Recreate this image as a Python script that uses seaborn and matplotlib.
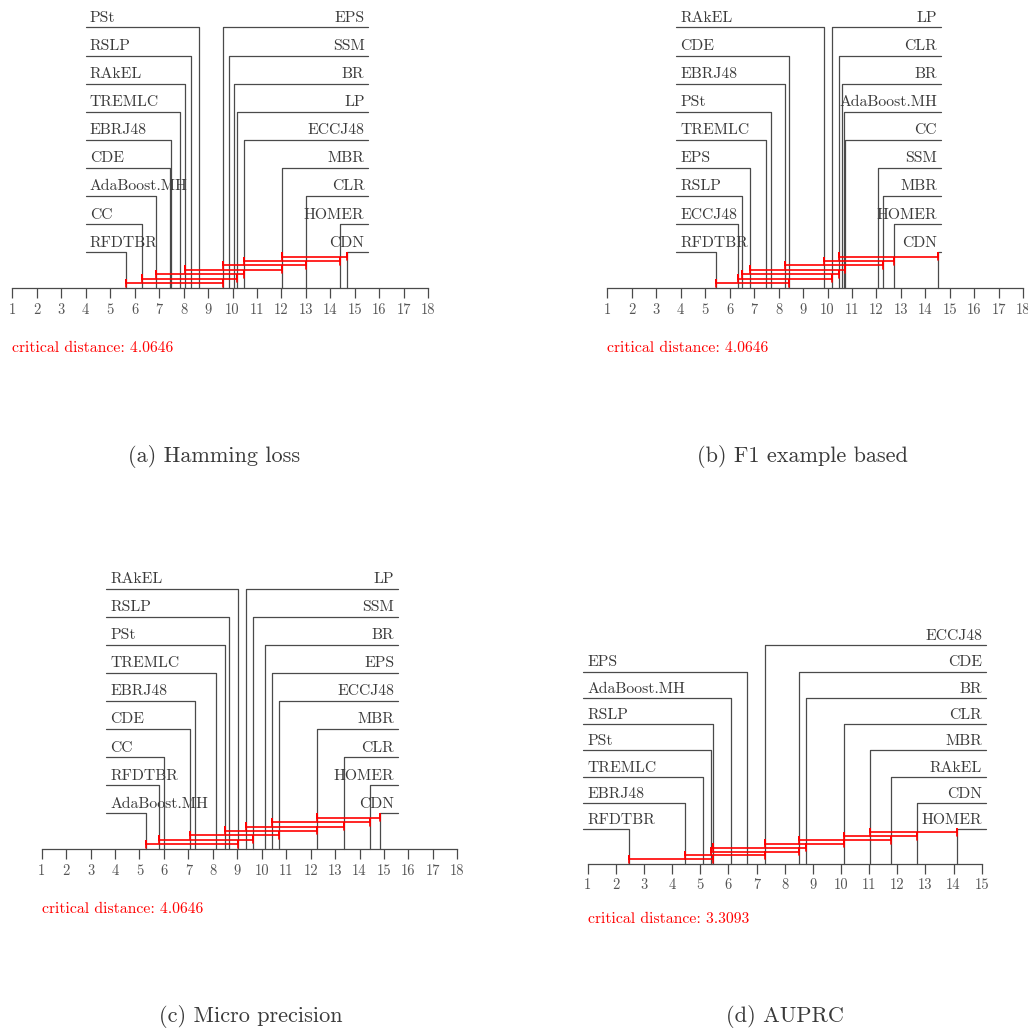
import numpy as np
import pandas as pd
import matplotlib
matplotlib.use("Agg")
import matplotlib.pyplot as plt
import seaborn as sns

# ---------------------------------------------------------------------------
# Average ranks of the multi-label methods (Friedman / Nemenyi post-hoc test)
# ---------------------------------------------------------------------------
hamming_methods = ["RFDTBR", "CC", "AdaBoost.MH", "CDE", "EBRJ48", "TREMLC",
                   "RAkEL", "RSLP", "PSt", "EPS", "SSM", "BR", "LP", "ECCJ48",
                   "MBR", "CLR", "HOMER", "CDN"]
hamming_ranks = [5.65, 6.29, 6.89, 7.44, 7.50, 7.87, 8.07, 8.32, 8.64, 9.60,
                 9.87, 10.05, 10.20, 10.48, 12.02, 12.99, 14.41, 14.69]
hamming_cd = 4.0646

f1_methods = ["RFDTBR", "ECCJ48", "RSLP", "EPS", "TREMLC", "PSt", "EBRJ48",
              "CDE", "RAkEL", "LP", "CLR", "BR", "AdaBoost.MH", "CC", "SSM",
              "MBR", "HOMER", "CDN"]
f1_ranks = [5.43, 6.34, 6.52, 6.84, 7.49, 7.69, 8.25, 8.43, 9.84, 10.20,
            10.48, 10.61, 10.66, 10.70, 12.08, 12.25, 12.70, 14.50]
f1_cd = 4.0646

micro_methods = ["AdaBoost.MH", "RFDTBR", "CC", "CDE", "EBRJ48", "TREMLC",
                 "PSt", "RSLP", "RAkEL", "LP", "SSM", "BR", "EPS", "ECCJ48",
                 "MBR", "CLR", "HOMER", "CDN"]
micro_ranks = [5.26, 5.80, 6.00, 7.08, 7.28, 8.12, 8.50, 8.65, 9.02, 9.37,
               9.64, 10.12, 10.43, 10.71, 12.27, 13.38, 14.43, 14.85]
micro_cd = 4.0646

auprc_methods = ["RFDTBR", "EBRJ48", "TREMLC", "PSt", "RSLP", "AdaBoost.MH",
                 "EPS", "ECCJ48", "CDE", "BR", "CLR", "MBR", "RAkEL", "CDN",
                 "HOMER"]
auprc_ranks = [2.47, 4.46, 5.09, 5.37, 5.46, 6.10, 6.66, 7.30, 8.51, 8.75,
               10.12, 11.04, 11.77, 12.70, 14.14]
auprc_cd = 3.3093

captions = ["(a) Hamming loss", "(b) F1 example based",
            "(c) Micro precision", "(d) AUPRC"]

# ---------------------------------------------------------------------------
W, H = 1028, 1029
sns.set_theme(style="white")
plt.rcParams["font.family"] = ["cmr10", "DejaVu Serif"]
plt.rcParams["axes.unicode_minus"] = False
plt.rcParams["mathtext.fontset"] = "cm"

LINE_COLOR = "#4a4a4a"
TEXT_COLOR = "#3a3a3a"
RED = "#ff0000"

fig = plt.figure(figsize=(W / 100, H / 100), dpi=100)


def cliques(ranks, cd):
    """Maximal groups of consecutive methods whose ranks differ by < cd."""
    r = np.sort(np.asarray(ranks))
    out, last_j = [], 0
    for i in range(len(r)):
        j = i
        while j + 1 < len(r) and r[j + 1] - r[i] <= cd:
            j += 1
        if j > i and j > last_j:
            out.append((r[i], r[j]))
            last_j = j
    return out


def cd_diagram(names, ranks, cd, n_ranks, lay, caption):
    x_first, x_last, axis_y = lay["x_first"], lay["x_last"], lay["axis_y"]
    s = (x_last - x_first) / (n_ranks - 1)          # pixels per rank
    height = 290.0
    ax = fig.add_axes([x_first / W, (H - axis_y) / H,
                       (x_last - x_first) / W, height / H])
    ax.patch.set_alpha(0)
    ax.set_xlim(1, n_ranks)
    ax.set_ylim(0, height)

    order = np.argsort(ranks)
    n_left = len(names) // 2
    left_idx = list(order[:n_left])
    right_idx = list(order[n_left:])[::-1]

    rows = []
    texts = []
    for k, i in enumerate(left_idx):
        y = lay["row0"] + k * lay["row_step"]
        rows += [(names[i], lay["edge_l"], y), (names[i], ranks[i], y),
                 (names[i], ranks[i], 0.0)]
        texts.append((lay["edge_l"] + 4.0 / s, y + lay["txt_dy"], names[i], "left"))
    for k, i in enumerate(right_idx):
        y = lay["row0"] + k * lay["row_step"]
        rows += [(names[i], lay["edge_r"], y), (names[i], ranks[i], y),
                 (names[i], ranks[i], 0.0)]
        texts.append((lay["edge_r"] - 3.5 / s, y + lay["txt_dy"], names[i], "right"))
    df_rows = pd.DataFrame(rows, columns=["method", "x", "y"])
    sns.lineplot(data=df_rows, x="x", y="y", units="method", estimator=None,
                 sort=False, color=LINE_COLOR, lw=0.9, ax=ax, legend=False,
                 clip_on=False)

    for x, y, t, ha in texts:
        ax.text(x, y, t, ha=ha, va="baseline", fontsize=lay["fs"],
                color=TEXT_COLOR, clip_on=False)

    # groups of methods that are not significantly different
    bars = []
    hh = 3.5
    for c, (lo, hi) in enumerate(cliques(ranks, cd)):
        y = lay["bar0"] + c * lay["bar_step"]
        for x, yy in [(lo, y - hh), (lo, y + hh), (lo, y), (hi, y),
                      (hi, y + hh), (hi, y - hh)]:
            bars.append((c, x, yy))
    df_bars = pd.DataFrame(bars, columns=["clique", "x", "y"])
    sns.lineplot(data=df_bars, x="x", y="y", units="clique", estimator=None,
                 sort=False, color=RED, lw=1.2, ax=ax, legend=False,
                 clip_on=False)

    # rank axis
    for side in ["left", "right", "top"]:
        ax.spines[side].set_visible(False)
    ax.spines["bottom"].set_color(LINE_COLOR)
    ax.spines["bottom"].set_linewidth(0.9)
    ax.set_xticks(range(1, n_ranks + 1))
    ax.set_yticks([])
    ax.tick_params(axis="x", bottom=True, direction="out", length=7.2,
                   width=0.9, color=LINE_COLOR, labelcolor="#555555",
                   pad=3.4, labelsize=10.5)
    ax.set_xlabel("")
    ax.set_ylabel("")

    ax.text(1, -lay["cd_dy"], f"critical distance: {cd:.4f}", ha="left",
            va="baseline", color=RED, fontsize=11.3, clip_on=False)

    fig.text(lay["cap_x"] / W, 1 - lay["cap_y"] / H, caption, ha="center",
             va="center", fontsize=16, color=TEXT_COLOR)


layout_a = dict(x_first=12.3, x_last=428.3, axis_y=288.3, row0=36.0,
                row_step=28.1, bar0=5.0, bar_step=4.45, edge_l=4.01,
                edge_r=15.54, txt_dy=5.6, fs=11.3, cd_dy=63.4,
                cap_x=214.2, cap_y=456)
layout_b = dict(layout_a, x_first=607.3, x_last=1023.3, edge_l=3.81,
                edge_r=14.62, cap_x=802.2)
layout_c = dict(layout_a, x_first=41.7, x_last=457.3, axis_y=849.3,
                edge_l=3.64, edge_r=15.56, cap_x=250.8, cap_y=1016)
layout_d = dict(x_first=587.7, x_last=981.7, axis_y=863.7, row0=34.4,
                row_step=26.3, bar0=4.4, bar_step=3.86, edge_l=0.84,
                edge_r=15.14, txt_dy=5.0, fs=11.3, cd_dy=59.0,
                cap_x=785, cap_y=1016)

cd_diagram(hamming_methods, hamming_ranks, hamming_cd, 18, layout_a, captions[0])
cd_diagram(f1_methods, f1_ranks, f1_cd, 18, layout_b, captions[1])
cd_diagram(micro_methods, micro_ranks, micro_cd, 18, layout_c, captions[2])
cd_diagram(auprc_methods, auprc_ranks, auprc_cd, 15, layout_d, captions[3])

fig.savefig("out.png", dpi=100, facecolor="white")
